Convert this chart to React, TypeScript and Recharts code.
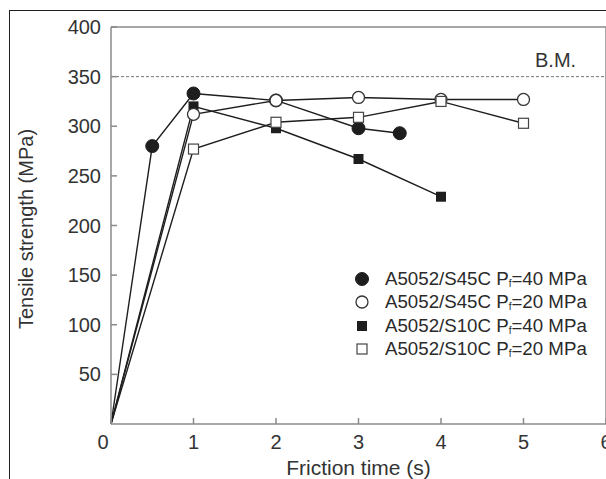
import { LineChart, Line, XAxis, YAxis, ReferenceLine, Legend, Label } from "recharts";

const FONT = "'Liberation Sans', Arial, sans-serif";
const INK = "#1e1e1e";
const AXIS = "#8a8a8a";

// friction time (s) / tensile strength (MPa)
const s45c40Time = [0, 0.5, 1, 2, 3, 3.5];
const s45c40Strength = [0, 280, 333, 326, 298, 293];

const s45c20Time = [0, 1, 2, 3, 4, 5];
const s45c20Strength = [0, 312, 326, 329, 327, 327];

const s10c40Time = [0, 1, 2, 3, 4];
const s10c40Strength = [0, 320, 298, 267, 229];

const s10c20Time = [0, 1, 2, 3, 4, 5];
const s10c20Strength = [0, 277, 304, 309, 325, 303];

const legendMaterials = ["A5052/S45C", "A5052/S45C", "A5052/S10C", "A5052/S10C"];
const legendPressures = [40, 20, 40, 20];
const legendMarkers = ["disc", "ring", "block", "box"];

const xTicks = [0, 1, 2, 3, 4, 5, 6];
const yTicks = [50, 100, 150, 200, 250, 300, 350, 400];
const baseMetal = 350;

const toPoints = (xs: number[], ys: number[]) => xs.map((t, i) => ({ time: t, strength: ys[i] }));

function Marker({ kind, cx, cy }: { kind: string; cx: number; cy: number }) {
  if (kind === "disc") return <circle cx={cx} cy={cy} r={6.5} fill={INK} stroke={INK} />;
  if (kind === "ring")
    return <circle cx={cx} cy={cy} r={6} fill="#fff" stroke="#333" strokeWidth={1.3} />;
  if (kind === "block") return <rect x={cx - 5} y={cy - 5} width={10} height={10} fill={INK} />;
  return <rect x={cx - 5} y={cy - 5} width={10} height={10} fill="#fff" stroke="#444" strokeWidth={1.2} />;
}

const makeDot = (kind: string) => (props: any) => {
  const { cx, cy, index } = props;
  if (index === 0 || cx == null || cy == null) return <g key={`d-${kind}-${index}`} />;
  return (
    <g key={`d-${kind}-${index}`}>
      <Marker kind={kind} cx={cx} cy={cy} />
    </g>
  );
};

const series = [
  { id: "s45c40", points: toPoints(s45c40Time, s45c40Strength), marker: "disc" },
  { id: "s10c40", points: toPoints(s10c40Time, s10c40Strength), marker: "block" },
  { id: "s45c20", points: toPoints(s45c20Time, s45c20Strength), marker: "ring" },
  { id: "s10c20", points: toPoints(s10c20Time, s10c20Strength), marker: "box" },
];

function XTick(props: any) {
  const { x, y, payload } = props;
  const shift = payload.value === 0 ? -8 : 0;
  return (
    <g>
      <line x1={x} y1={y} x2={x} y2={y - 6} stroke={AXIS} strokeWidth={1.5} />
      <text x={x + shift} y={y + 25} textAnchor="middle" fontSize={20} fontFamily={FONT} fill="#333">
        {payload.value}
      </text>
    </g>
  );
}

function YTick(props: any) {
  const { x, y, payload } = props;
  return (
    <g>
      <line x1={x} y1={y} x2={x + 6} y2={y} stroke={AXIS} strokeWidth={1.5} />
      <text x={x - 10} y={y + 7} textAnchor="end" fontSize={20} fontFamily={FONT} fill="#333">
        {payload.value}
      </text>
    </g>
  );
}

function XTitle(props: any) {
  const { viewBox } = props;
  return (
    <text
      x={viewBox.x + viewBox.width / 2}
      y={viewBox.y + 51}
      textAnchor="middle"
      fontSize={21}
      fontFamily={FONT}
      fill="#333"
    >
      Friction time (s)
    </text>
  );
}

function YTitle() {
  return (
    <text
      x={33}
      y={229}
      transform="rotate(-90, 33, 229)"
      textAnchor="middle"
      fontSize={20}
      fontFamily={FONT}
      fill="#333"
    >
      Tensile strength (MPa)
    </text>
  );
}

function BMLabel(props: any) {
  const { viewBox } = props;
  return (
    <text
      x={viewBox.x + viewBox.width - 71}
      y={viewBox.y - 10}
      fontSize={20}
      fontFamily={FONT}
      fill="#333"
    >
      B.M.
    </text>
  );
}

function LegendBox() {
  return (
    <div style={{ fontFamily: FONT, fontSize: 18.7, color: "#2a2a2a" }}>
      {legendMaterials.map((m, i) => (
        <div key={i} style={{ display: "flex", alignItems: "center", height: 23.5 }}>
          <svg width={16} height={16} style={{ marginRight: 15 }}>
            <Marker kind={legendMarkers[i]} cx={8} cy={8} />
          </svg>
          <span style={{ whiteSpace: "nowrap" }}>
            {m} P
            <sub style={{ fontSize: 10, lineHeight: 0, verticalAlign: "-2px" }}>f</sub>={legendPressures[i]} MPa
          </span>
        </div>
      ))}
    </div>
  );
}

export default function App() {
  return (
    <div
      style={{
        position: "absolute",
        left: 0,
        top: 0,
        width: 606,
        height: 479,
        overflow: "hidden",
        background: "#fff",
      }}
    >
      <div
        style={{
          position: "absolute",
          left: 9,
          top: 10,
          width: 700,
          height: 600,
          borderLeft: `1.5px solid ${INK}`,
          borderTop: `1.5px solid ${INK}`,
        }}
      />
      <div style={{ position: "absolute", left: 0, top: 0 }}>
        <LineChart width={606} height={479} margin={{ top: 27, right: 0, bottom: 0, left: 0 }}>
          <XAxis
            type="number"
            dataKey="time"
            domain={[0, 6]}
            ticks={xTicks}
            interval={0}
            height={55}
            axisLine={{ stroke: AXIS, strokeWidth: 1.5 }}
            tickLine={false}
            tickSize={0}
            tickMargin={0}
            tick={XTick}
          >
            <Label content={XTitle} />
          </XAxis>
          <YAxis
            type="number"
            domain={[0, 400]}
            ticks={yTicks}
            interval={0}
            width={111}
            axisLine={{ stroke: AXIS, strokeWidth: 1.5 }}
            tickLine={false}
            tickSize={0}
            tickMargin={0}
            tick={YTick}
          >
            <Label content={YTitle} />
          </YAxis>
          <ReferenceLine y={400} stroke={AXIS} strokeWidth={1.5} />
          <ReferenceLine x={6} stroke={AXIS} strokeWidth={1.5} />
          <ReferenceLine
            y={baseMetal}
            stroke="#777"
            strokeWidth={1}
            strokeDasharray="3 2"
            label={<BMLabel />}
          />
          {series.map((s) => (
            <Line
              key={s.id}
              data={s.points}
              dataKey="strength"
              type="linear"
              stroke={INK}
              strokeWidth={1.4}
              dot={makeDot(s.marker)}
              activeDot={false}
              isAnimationActive={false}
            />
          ))}
          <Legend
            layout="vertical"
            align="center"
            verticalAlign="middle"
            content={LegendBox}
            wrapperStyle={{ left: 354, top: 267, width: "auto" }}
          />
        </LineChart>
      </div>
    </div>
  );
}
